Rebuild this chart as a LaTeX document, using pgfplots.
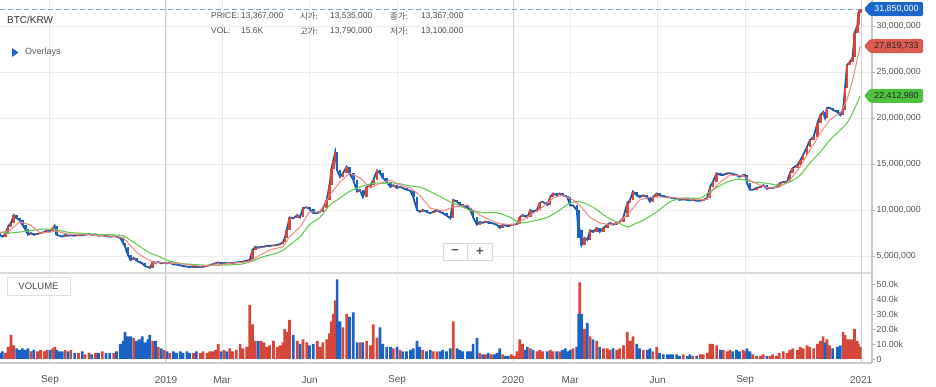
\documentclass[border=0pt]{standalone}
\usepackage{pgfplots}
\pgfplotsset{compat=1.18}
\usepackage{pgfplotstable}
\usepackage{fontspec}
\setmainfont{Liberation Sans}
\newfontfamily\kr{Noto Sans CJK KR}
\definecolor{upred}{HTML}{D7463A}
\definecolor{dnblue}{HTML}{1A62C4}
\definecolor{maRed}{HTML}{F0857C}
\definecolor{maGreen}{HTML}{66CC55}
\definecolor{tagblue}{HTML}{1A66C9}
\definecolor{tagred}{HTML}{DD5C52}
\definecolor{taggreen}{HTML}{4CC23F}
\definecolor{txt}{HTML}{555555}
\definecolor{dashblue}{HTML}{7EA6E0}

% d = days since 2019-01-01, o/c = open/close (million KRW), v = volume (thousand)
\pgfplotstableread{
d o c v
-175 7.5 7.3 4
-172 7.3 7.1 5
-169 7.1 7.4 4
-166 7.4 8.2 8
-163 8.2 8.6 16
-160 8.6 9.45 9
-157 9.45 9.1 7
-154 9.1 8.9 6
-151 8.9 8.4 7
-148 8.4 7.9 6
-145 7.9 7.3 7
-142 7.3 7.5 5
-139 7.5 7.3 6
-135 7.3 7.4 5
-132 7.4 7.5 6
-128 7.5 7.6 5
-125 7.6 7.8 6
-122 7.8 7.7 6
-119 7.7 8.0 7
-117 8.0 8.3 8
-115 8.3 7.3 6
-112 7.3 7.2 5
-109 7.2 7.1 5
-106 7.1 7.3 6
-103 7.3 7.2 5
-100 7.2 7.25 6
-96 7.25 7.2 4
-92 7.2 7.3 4
-88 7.3 7.25 5
-85 7.25 7.3 3
-81 7.3 7.4 4
-78 7.4 7.3 3
-74 7.3 7.35 4
-71 7.35 7.2 4
-67 7.2 7.25 5
-63 7.25 7.15 4
-59 7.15 7.1 4
-55 7.1 7.15 4
-52 7.15 7.1 5
-48 7.1 6.95 10
-45 6.95 6.4 12
-43 6.4 6.0 18
-40 6.0 5.1 15
-37 5.1 4.55 15
-34 4.55 4.8 14
-31 4.8 4.5 12
-28 4.5 4.35 13
-25 4.35 4.2 15
-22 4.2 3.9 11
-19 3.9 3.8 13
-17 3.8 3.7 16
-14 3.7 4.35 12
-11 4.35 4.25 12
-8 4.25 4.35 8
-5 4.35 4.2 7
-2 4.2 4.25 6
1 4.25 4.2 5
4 4.2 4.25 4
8 4.25 4.1 5
11 4.1 4.05 4
15 4.05 4.0 5
18 4.0 3.9 4
22 3.9 3.85 5
25 3.85 3.8 4
29 3.8 3.85 4
32 3.85 3.8 5
36 3.8 3.8 4
39 3.8 3.85 5
43 3.85 3.9 4
46 3.9 4.0 5
49 4.0 4.1 5
52 4.1 4.2 6
55 4.2 4.3 10
58 4.3 4.2 5
61 4.2 4.25 6
64 4.25 4.2 5
67 4.2 4.2 7
70 4.2 4.25 5
74 4.25 4.3 6
78 4.3 4.35 10
81 4.35 4.4 7
85 4.4 4.5 8
88 4.5 4.55 36
91 4.55 5.65 23
94 5.65 6.0 12
97 6.0 5.9 12
100 5.9 6.0 12
103 6.0 6.0 11
106 6.0 6.1 8
109 6.1 6.1 9
113 6.1 6.15 12
117 6.15 6.2 8
120 6.2 6.3 9
123 6.3 6.5 11
125 6.5 7.0 20
127 7.0 7.8 18
130 7.8 9.2 26
134 9.2 9.1 16
138 9.1 9.45 12
141 9.45 9.2 10
144 9.2 10.2 13
148 10.2 10.3 11
151 10.3 10.1 9
155 10.1 9.65 10
159 9.65 9.65 12
162 9.65 9.8 8
165 9.8 10.2 11
169 10.2 11.1 13
172 11.1 12.7 17
174 12.7 14.5 25
176 14.5 15.4 30
178 15.4 16.3 39
180 16.3 14.3 53
183 14.3 13.6 25
186 13.6 14.0 21
190 14.0 14.7 30
193 14.7 14.0 28
197 14.0 13.25 31
201 13.25 12.0 11
204 12.0 12.2 11
207 12.2 11.4 11
211 11.4 12.5 12
215 12.5 12.7 9
218 12.7 13.25 23
222 13.25 14.3 14
225 14.3 14.0 21
228 14.0 13.5 10
232 13.5 13.05 8
236 13.05 12.5 8
239 12.5 12.7 7
243 12.7 12.4 8
246 12.4 12.5 6
249 12.5 12.4 5
253 12.4 12.2 5
257 12.2 12.1 6
260 12.1 11.4 7
264 11.4 10.0 12
267 10.0 9.8 8
270 9.8 10.0 6
274 10.0 9.8 5
278 9.8 9.65 6
281 9.65 9.8 5
285 9.8 10.0 5
288 10.0 9.8 5
291 9.8 9.65 6
295 9.65 9.4 5
299 9.4 9.1 7
302 9.1 11.1 25
306 11.1 10.9 7
309 10.9 10.6 6
312 10.6 10.5 5
317 10.5 10.2 5
320 10.2 10.0 5
323 10.0 9.2 10
327 9.2 8.4 14
330 8.4 8.7 4
333 8.7 8.6 3
336 8.6 8.75 3
339 8.75 8.6 4
342 8.6 8.6 3
345 8.6 8.5 3
348 8.5 8.4 4
351 8.4 8.05 7
354 8.05 8.4 3
357 8.4 8.3 2
360 8.3 8.25 2
363 8.25 8.4 3
366 8.4 8.4 2
369 8.4 8.5 5
372 8.5 9.2 13
375 9.2 9.45 10
378 9.45 9.3 6
380 9.3 9.2 8
383 9.2 10.0 7
386 10.0 9.8 6
390 9.8 10.0 5
393 10.0 10.75 6
396 10.75 10.9 5
401 10.9 10.55 5
404 10.55 11.4 6
407 11.4 11.8 5
411 11.8 11.6 5
414 11.6 11.8 5
417 11.8 11.6 6
420 11.6 11.5 7
422 11.5 11.4 5
425 11.4 10.5 6
428 10.5 10.5 7
432 10.5 10.0 8
434 10.0 7.0 30
435 7.0 7.8 51
437 7.8 6.2 30
440 6.2 6.95 20
443 6.95 6.75 24
446 6.75 7.8 15
449 7.8 7.6 13
453 7.6 8.05 12
456 8.05 7.6 8
460 7.6 8.05 7
464 8.05 8.4 7
467 8.4 8.6 6
470 8.6 8.4 7
474 8.4 8.6 6
477 8.6 8.7 7
481 8.7 9.2 9
485 9.2 10.75 18
488 10.75 11.1 12
491 11.1 12.0 15
495 12.0 11.6 10
498 11.6 11.4 7
502 11.4 11.6 6
506 11.6 11.4 6
509 11.4 10.9 7
512 10.9 11.4 5
516 11.4 11.8 8
519 11.8 11.6 4
523 11.6 11.5 3
527 11.5 11.4 3
530 11.4 11.35 3
533 11.35 11.3 3
537 11.3 11.2 3
540 11.2 11.1 2
544 11.1 11.15 3
548 11.15 11.1 2
551 11.1 11.05 3
554 11.05 11.1 2
558 11.1 11.0 2
562 11.0 11.0 3
565 11.0 11.1 3
569 11.1 11.3 4
572 11.3 12.5 10
575 12.5 13.05 10
579 13.05 14.0 9
583 14.0 13.8 6
586 13.8 13.8 6
590 13.8 14.0 5
593 14.0 14.0 6
596 14.0 13.9 5
600 13.9 13.8 6
603 13.8 13.6 5
607 13.6 13.8 6
609 13.8 13.8 5
611 13.8 12.9 7
614 12.9 12.2 5
617 12.2 12.2 3
621 12.2 12.4 2
625 12.4 12.5 2
628 12.5 12.7 3
632 12.7 12.3 2
635 12.3 12.4 2
638 12.4 12.4 3
642 12.4 12.5 2
645 12.5 12.9 4
649 12.9 13.05 5
653 13.05 13.05 4
656 13.05 14.0 6
659 14.0 14.55 7
664 14.55 14.9 6
667 14.9 15.4 8
670 15.4 16.0 7
674 16.0 16.85 9
677 16.85 17.6 8
681 17.6 17.95 7
685 17.95 19.45 10
688 19.45 20.3 12
691 20.3 20.65 15
693 20.65 20.0 11
695 20.0 21.1 13
698 21.1 21.1 9
701 21.1 20.9 7
706 20.9 20.65 8
709 20.65 20.3 9
712 20.3 20.9 18
714 20.9 23.25 16
716 23.25 25.75 13
719 25.75 26.1 13
722 26.1 26.6 13
724 26.6 29.2 20
727 29.2 30.1 12
728 30.1 31.4 10
730 31.4 31.85 8
}\prices

\pgfplotstableread{
d m
-175 7.6
-164 7.5
-146 7.7
-132 7.9
-117 7.9
-104 7.6
-80 7.4
-59 7.3
-45 7.2
-38 6.75
-27 6.0
-17 5.35
-6 4.9
1 4.55
12 4.25
25 4.1
43 4.0
57 4.0
78 4.1
88 4.35
102 4.9
120 5.45
130 6.2
141 7.1
151 8.4
162 9.2
172 10.5
183 11.3
193 12.0
204 12.5
218 12.9
228 12.9
243 12.9
257 12.6
267 12.5
278 12.0
291 11.3
302 10.75
317 10.1
320 9.95
334 9.7
348 9.7
362 9.2
372 8.6
386 8.8
401 9.2
414 10.0
425 10.75
435 10.9
449 10.3
464 9.2
474 8.7
485 8.15
491 8.4
502 8.9
516 9.8
530 10.9
544 11.3
562 11.3
572 12.0
590 13.05
604 13.35
617 13.05
632 12.9
645 12.7
656 13.05
667 13.8
677 15.1
688 16.3
698 17.6
709 18.7
716 19.45
722 20.55
730 22.41
}\maG

\pgfplotstableread{
d m
-175 7.5
-164 7.8
-154 8.7
-143 8.4
-132 7.5
-122 7.6
-115 7.7
-104 7.4
-80 7.3
-54 7.1
-45 7.0
-38 6.2
-30 5.3
-22 4.8
-14 4.35
-3 4.25
15 4.15
36 3.9
52 4.0
67 4.2
88 4.4
99 5.1
109 5.65
123 6.0
130 7.1
141 8.15
151 9.8
162 9.8
172 11.6
183 13.05
193 14.0
204 13.5
215 12.4
225 12.9
236 13.25
246 12.7
257 12.4
267 11.6
278 10.2
291 9.9
302 10.3
317 10.55
320 10.2
330 9.45
341 8.9
351 8.5
365 8.4
375 8.9
386 9.65
396 10.3
407 11.3
417 11.6
428 11.1
435 10.5
446 9.2
456 8.6
467 8.4
477 8.7
488 9.8
498 11.1
509 11.4
527 11.4
551 11.2
562 11.1
569 11.2
575 12.2
583 13.05
593 13.8
607 13.7
617 13.05
632 12.4
645 12.5
656 13.25
667 14.7
677 16.5
688 18.35
698 19.8
709 20.55
716 21.95
722 24.1
730 27.82
}\maR

\newcommand\ptag[4]{%
  \fill[#2, rounded corners=1.5pt] ([xshift=-8pt]#1) -- ([xshift=-2pt,yshift=7pt]#1) -- ([xshift=51pt,yshift=7pt]#1) -- ([xshift=51pt,yshift=-7pt]#1) -- ([xshift=-2pt,yshift=-7pt]#1) -- cycle;
  \node[text=#3, font=\fontsize{8.8}{9}\selectfont, inner sep=0pt] at ([xshift=24.5pt]#1) {#4};
}

\begin{document}
\begin{tikzpicture}[x=1pt,y=1pt]
\useasboundingbox (0,0) rectangle (936,386);

% ---------- price panel ----------
\begin{axis}[
  at={(0pt,113pt)}, anchor=south west,
  width=872pt, height=273pt, scale only axis,
  xmin=-174.5, xmax=742.4, ymin=3.15, ymax=32.83,
  axis x line*=bottom, axis y line*=right,
  x axis line style={-, draw=black!14, line width=2pt},
  y axis line style={-, draw=black!22, line width=1.5pt},
  xtick={-122,0,59,151,243,365,425,517,609,731}, xticklabels={},
  xmajorgrids, ymajorgrids, major grid style={black!8, line width=0.9pt},
  extra x ticks={0,365,731}, extra x tick labels={},
  extra x tick style={grid=major, major grid style={black!18, line width=1pt}},
  ytick={5,10,15,20,25,30},
  yticklabels={{5,000,000},{10,000,000},{15,000,000},{20,000,000},{25,000,000},{30,000,000}},
  tick align=outside, major tick length=3pt,
  xtick style={draw=none}, ytick style={draw=black!35, line width=0.6pt},
  yticklabel style={font=\fontsize{8.8}{9}\selectfont, text=txt, inner sep=1.5pt},
  clip=true,
]
\addplot[dashblue, line width=1pt, dash pattern=on 5pt off 3pt, forget plot] coordinates {(-174.5,31.85) (730,31.85)};
\addplot[dnblue, line width=1.8pt, forget plot] table[x=d, y=c] {\prices};
\addplot[black!75, line width=0.45pt, forget plot] table[x=d, y=c] {\prices};
\addplot[draw=none, mark=none, forget plot,
  restrict expr to domain={\thisrow{c}-\thisrow{o}}{0:1000},
  error bars/.cd, y dir=plus, y explicit, error mark=none,
  error bar style={draw=upred, line width=2.6pt}]
  table[x=d, y=o, y error expr=\thisrow{c}-\thisrow{o}] {\prices};
\addplot[draw=none, mark=none, forget plot,
  restrict expr to domain={\thisrow{c}-\thisrow{o}}{-1000:-0.00001},
  error bars/.cd, y dir=plus, y explicit, error mark=none,
  error bar style={draw=dnblue, line width=2.6pt}]
  table[x=d, y=c, y error expr=\thisrow{o}-\thisrow{c}] {\prices};
\addplot[maGreen, line width=1.1pt, smooth, forget plot] table[x=d, y=m] {\maG};
\addplot[maRed, line width=1.1pt, opacity=0.9, forget plot] table[x=d, y=m] {\maR};
\coordinate (tB) at (axis cs:742.4,31.85);
\coordinate (tR) at (axis cs:742.4,27.82);
\coordinate (tG) at (axis cs:742.4,22.41);
\end{axis}

% ---------- volume panel ----------
\begin{axis}[
  at={(0pt,23pt)}, anchor=south west,
  width=872pt, height=90pt, scale only axis,
  xmin=-174.5, xmax=742.4, ymin=-2.67, ymax=57.3,
  axis x line*=bottom, axis y line*=right,
  x axis line style={-, draw=black!20, line width=2pt},
  y axis line style={-, draw=black!22, line width=1.5pt},
  xtick={-122,0,59,151,243,365,425,517,609,731},
  xticklabels={Sep,2019,Mar,Jun,Sep,2020,Mar,Jun,Sep,2021},
  xmajorgrids, major grid style={black!8, line width=0.9pt},
  extra x ticks={0,365,731}, extra x tick labels={},
  extra x tick style={grid=major, major grid style={black!18, line width=1pt}},
  ytick={0,10,20,30,40,50},
  yticklabels={0,10.00k,20.0k,30.0k,40.0k,50.0k},
  tick align=outside, major tick length=3pt,
  xtick style={draw=none}, ytick style={draw=black!35, line width=0.6pt},
  yticklabel style={font=\fontsize{8.8}{9}\selectfont, text=txt, inner sep=1.5pt},
  xticklabel style={font=\fontsize{10}{11}\selectfont, text=txt, anchor=center, yshift=-14pt},
  clip=true,
]
\addplot[ybar, bar width=2.7pt, bar shift=0pt, fill=upred, draw=none, forget plot,
  restrict expr to domain={\thisrow{c}-\thisrow{o}}{0:1000}]
  table[x=d, y=v] {\prices};
\addplot[ybar, bar width=2.7pt, bar shift=0pt, fill=dnblue, draw=none, forget plot,
  restrict expr to domain={\thisrow{c}-\thisrow{o}}{-1000:-0.00001}]
  table[x=d, y=v] {\prices};
\end{axis}

% ---------- price tags ----------
\ptag{tB}{tagblue}{white}{31,850,000}
\ptag{tR}{tagred}{black!85}{27,819,733}
\ptag{tG}{taggreen}{black!85}{22,412,980}

% ---------- header ----------
\node[anchor=west, font=\fontsize{10}{11}\selectfont, text=black!80, inner sep=0pt] at (7,366) {BTC/KRW};
\begin{scope}[every node/.style={anchor=west, inner sep=0pt, font=\fontsize{8.4}{9}\selectfont, text=black!70}]
\node at (211,370) {PRICE:};
\node at (241,370) {13,367,000};
\node at (300,370) {\kr 시가:};
\node at (330,370) {13,535,000};
\node at (390,370) {\kr 종가:};
\node at (421,370) {13,367,000};
\node at (211,355) {VOL:};
\node at (241,355) {15.6K};
\node at (300,355) {\kr 고가:};
\node at (330,355) {13,790,000};
\node at (390,355) {\kr 저가:};
\node at (421,355) {13,100,000};
\end{scope}
\fill[tagblue] (12,338) -- (18.5,333.5) -- (12,329) -- cycle;
\node[anchor=west, inner sep=0pt, font=\fontsize{9}{10}\selectfont, text=black!65] at (25,333.5) {Overlays};

% ---------- zoom buttons ----------
\fill[black!10] (444,125) rectangle (493,143);
\filldraw[fill=white, draw=black!15] (443,126) rectangle (492,143);
\draw[black!15] (467.5,126) -- (467.5,143);
\node[font=\bfseries\fontsize{13}{13}\selectfont, text=black!65] at (455,134.5) {−};
\node[font=\bfseries\fontsize{13}{13}\selectfont, text=black!65] at (480,134.5) {+};

% ---------- volume label ----------
\fill[black!8] (8,90) rectangle (71,108);
\filldraw[fill=white, draw=black!12] (7,91) rectangle (70,109);
\node[font=\fontsize{9.5}{10}\selectfont, text=black!70] at (38.5,100) {VOLUME};
\end{tikzpicture}
\end{document}
